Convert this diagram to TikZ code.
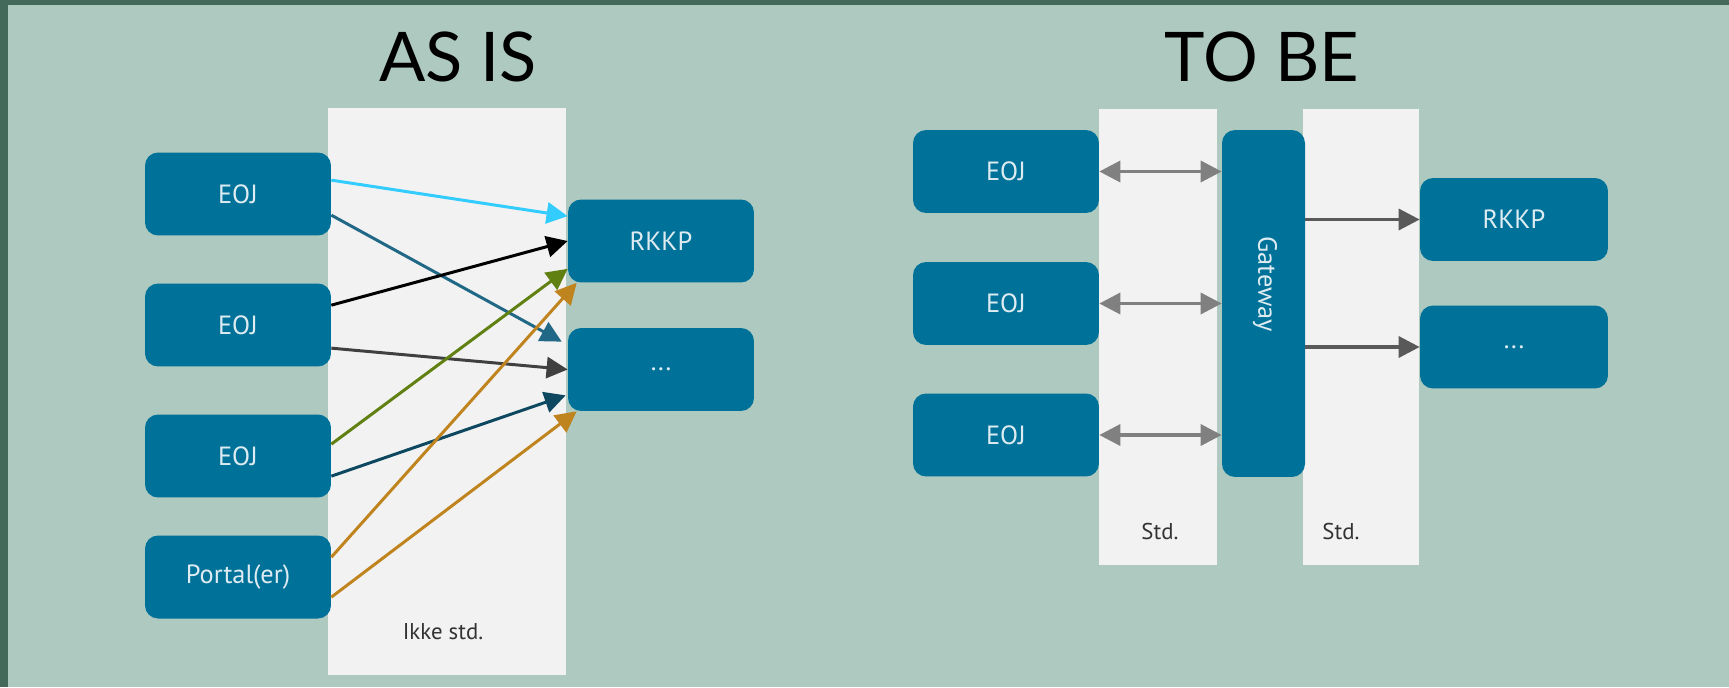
\documentclass[tikz,border=0pt]{standalone}
\usepackage{fontspec}
\setmainfont{PT Sans}
\newfontfamily\titlefont{Lato}
\usetikzlibrary{arrows.meta,calc}

\definecolor{bgcol}{RGB}{174,201,191}
\definecolor{framecol}{RGB}{67,105,90}
\definecolor{panelcol}{RGB}{242,242,242}
\definecolor{boxcol}{RGB}{0,114,153}
\definecolor{boxtext}{RGB}{222,236,241}
\definecolor{cyanarr}{RGB}{51,204,255}
\definecolor{tealarr}{RGB}{32,104,134}
\definecolor{grayarr}{RGB}{64,64,64}
\definecolor{olivearr}{RGB}{96,128,18}
\definecolor{navyarr}{RGB}{14,72,96}
\definecolor{orangearr}{RGB}{192,132,30}
\definecolor{stdarr}{RGB}{128,128,128}
\definecolor{outarr}{RGB}{89,89,89}

\newcommand*{\picw}{1729}
\newcommand*{\pich}{687}

\begin{document}
\begin{tikzpicture}
[
	box/.style={rectangle,rounded corners=0.26cm,fill=boxcol,text=boxtext,minimum width=3.72cm,minimum height=1.66cm,inner sep=0pt,font=\fontsize{15}{18}\selectfont},
	panel/.style={rectangle,fill=panelcol,inner sep=0pt},
	title/.style={font=\titlefont\fontsize{39}{44}\selectfont},
	std/.style={text=black!80,font=\fontsize{13}{15}\selectfont},
	flow/.style={line width=1.7pt,-{Triangle[length=12pt,width=12pt]}},
	both/.style={line width=2pt,stdarr,{Triangle[length=12pt,width=12pt]}-{Triangle[length=12pt,width=12pt]}},
	x=0.02cm,y=-0.02cm
]

	% background and frame
	\useasboundingbox (0,0) rectangle (\picw,\pich);
	\fill[bgcol] (0,0) rectangle (\picw,\pich);
	\fill[framecol] (0,0) rectangle (8,\pich);
	\fill[framecol] (0,0) rectangle (\picw,5);

	% titles
	\node[title] (asis) at (458,57) {AS IS};
	\node[title] (tobe) at (1262,57) {TO BE};

	% AS IS
	\node[panel,minimum width=4.76cm,minimum height=11.34cm] (ikke) at (447,391.5) {};
	\node[std] (ikkelbl) at (443,632) {Ikke std.};

	\node[box] (eojA1) at (238,194) {EOJ};
	\node[box] (eojA2) at (238,325) {EOJ};
	\node[box] (eojA3) at (238,456) {EOJ};
	\node[box] (portal) at (238,577) {Portal(er)};

	\node[box] (rkkpA) at (661,241) {RKKP};
	\node[box] (dotsA) at (661,369.5) {...};

	\draw[flow,cyanarr] ($(eojA1.north east)+(0,28)$) -- ($(rkkpA.north west)+(0,17)$);
	\draw[flow,tealarr] ($(eojA1.north east)+(0,63)$) -- ($(dotsA.north west)+(-6,14)$);
	\draw[flow,black] ($(eojA2.north east)+(0,22)$) -- (rkkpA.west);
	\draw[flow,grayarr] ($(eojA2.north east)+(0,65)$) -- (dotsA.west);
	\draw[flow,olivearr] ($(eojA3.north east)+(0,30)$) -- ($(rkkpA.south west)+(0,-14)$);
	\draw[flow,navyarr] ($(eojA3.north east)+(0,62)$) -- ($(dotsA.south west)+(-2,-16)$);
	\draw[flow,orangearr] ($(portal.north east)+(0,22)$) -- ($(rkkpA.south west)+(9,0)$);
	\draw[flow,orangearr] ($(portal.north east)+(0,62)$) -- ($(dotsA.south west)+(9,0)$);

	% TO BE
	\node[panel,minimum width=2.36cm,minimum height=9.12cm] (std1) at (1158,337) {};
	\node[panel,minimum width=2.32cm,minimum height=9.12cm] (std2) at (1361,337) {};
	\node[std] (std1lbl) at (1160,531) {Std.};
	\node[std] (std2lbl) at (1341,531) {Std.};

	\node[box] (eojB1) at (1006,171.5) {EOJ};
	\node[box] (eojB2) at (1006,303.5) {EOJ};
	\node[box] (eojB3) at (1006,435) {EOJ};

	\node[box,minimum width=1.66cm,minimum height=6.94cm] (gateway) at (1263.5,303.5) {};
	\node[rotate=-90,text=boxtext,font=\fontsize{15}{18}\selectfont] (gwlbl) at (1265,284) {Gateway};

	\node[box,minimum width=3.76cm] (rkkpB) at (1514,219.5) {RKKP};
	\node[box,minimum width=3.76cm] (dotsB) at (1514,347) {...};

	\draw[both] (eojB1.east) -- (eojB1.east -| gateway.west);
	\draw[both] (eojB2.east) -- (eojB2.east -| gateway.west);
	\draw[both] (eojB3.east) -- (eojB3.east -| gateway.west);

	\draw[flow,outarr,line width=2pt] (gateway.east |- rkkpB.west) -- (rkkpB.west);
	\draw[flow,outarr,line width=2pt] (gateway.east |- dotsB.west) -- (dotsB.west);

\end{tikzpicture}
\end{document}
